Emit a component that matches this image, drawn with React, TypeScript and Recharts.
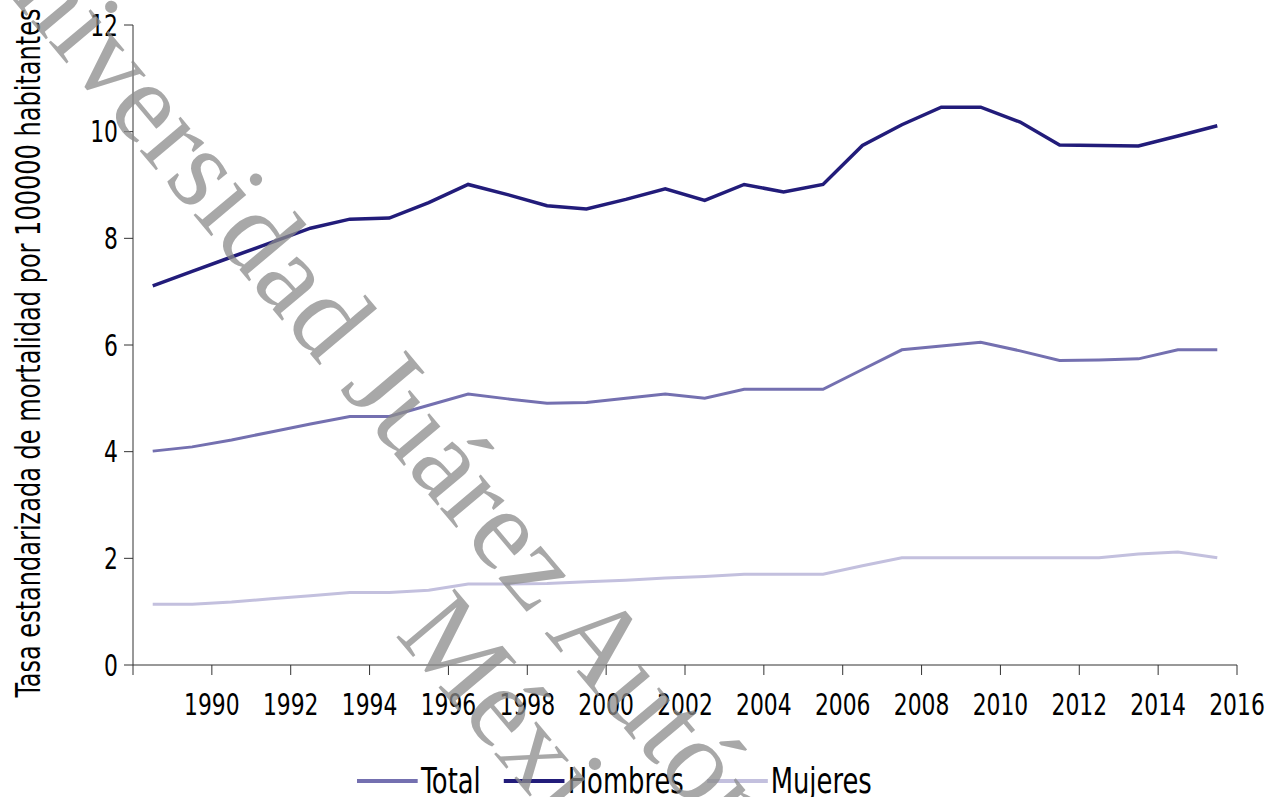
import React from 'react';
import { LineChart, Line, XAxis, YAxis, Legend } from 'recharts';

const FONT = "'DejaVu Sans Condensed', 'DejaVu Sans', sans-serif";
const NARROW = 0.81;

const periods = [1988, 1989, 1990, 1991, 1992, 1993, 1994, 1995, 1996, 1997, 1998, 1999, 2000, 2001, 2002, 2003, 2004, 2005, 2006, 2007, 2008, 2009, 2010, 2011, 2012, 2013, 2014, 2015];
const hombres = [7.11, 7.38, 7.65, 7.92, 8.19, 8.36, 8.38, 8.67, 9.01, 8.82, 8.61, 8.55, 8.73, 8.93, 8.71, 9.01, 8.87, 9.01, 9.74, 10.13, 10.46, 10.46, 10.18, 9.75, 9.74, 9.73, 9.92, 10.11];
const total = [4.01, 4.09, 4.22, 4.37, 4.52, 4.66, 4.66, 4.87, 5.08, 4.99, 4.91, 4.92, 5.0, 5.08, 5.0, 5.17, 5.17, 5.17, 5.54, 5.91, 5.98, 6.05, 5.89, 5.71, 5.72, 5.74, 5.91, 5.91];
const mujeres = [1.14, 1.14, 1.18, 1.24, 1.3, 1.36, 1.36, 1.4, 1.52, 1.52, 1.53, 1.56, 1.59, 1.63, 1.66, 1.7, 1.7, 1.7, 1.86, 2.01, 2.01, 2.01, 2.01, 2.01, 2.01, 2.08, 2.12, 2.01];

const xTicks = [1988, 1990, 1992, 1994, 1996, 1998, 2000, 2002, 2004, 2006, 2008, 2010, 2012, 2014, 2016];
const yTicks = [0, 2, 4, 6, 8, 10, 12];

const yTitle = 'Tasa estandarizada de mortalidad por 100000 habitantes';
const watermark1 = 'Universidad Juárez Autónoma de Tabasco';
const watermark2 = 'México.';

const series = [
  { key: 'total', name: 'Total', color: '#7470b0', width: 3 },
  { key: 'hombres', name: 'Hombres', color: '#221c7a', width: 3.5 },
  { key: 'mujeres', name: 'Mujeres', color: '#c3c0de', width: 3 },
];

const data = periods.map((p, i) => ({
  x: p + 0.5,
  total: total[i],
  hombres: hombres[i],
  mujeres: mujeres[i],
}));

const XTick = (props: any) => {
  const { x, y, payload } = props;
  const label = payload.value === 1988 ? '' : String(payload.value);
  return (
    <text
      transform={`translate(${x},${y}) scale(${NARROW},1)`}
      textAnchor="middle"
      dy="0.71em"
      fontFamily={FONT}
      fontSize={30}
      fill="#000"
    >
      {label}
    </text>
  );
};

const YTick = (props: any) => {
  const { x, y, payload } = props;
  return (
    <text
      transform={`translate(${x},${y}) scale(${NARROW},1)`}
      textAnchor="end"
      dy="0.36em"
      fontFamily={FONT}
      fontSize={30}
      fill="#000"
    >
      {String(payload.value)}
    </text>
  );
};

const LegendContent = () => (
  <div
    style={{
      display: 'flex',
      alignItems: 'center',
      fontFamily: FONT,
      fontSize: 35,
      color: '#000',
      transform: `scaleX(0.82)`,
      transformOrigin: 'left center',
      whiteSpace: 'nowrap',
    }}
  >
    {series.map((s) => (
      <div key={s.key} style={{ display: 'flex', alignItems: 'center', marginRight: 28 }}>
        <div style={{ width: 74, height: 4, background: s.color, marginRight: 4 }} />
        <span style={{ lineHeight: '34px' }}>{s.name}</span>
      </div>
    ))}
  </div>
);

export default function App() {
  return (
    <div style={{ position: 'absolute', left: 0, top: 0, width: 1272, height: 797, background: '#fff', overflow: 'hidden' }}>
      <LineChart width={1272} height={797} data={data} margin={{ top: 25, right: 35, bottom: 72, left: 0 }}>
        <XAxis
          dataKey="x"
          type="number"
          domain={[1988, 2016]}
          ticks={xTicks}
          interval={0}
          height={60}
          tickSize={10}
          tickMargin={19}
          stroke="#333"
          tick={<XTick />}
        />
        <YAxis
          type="number"
          domain={[0, 12]}
          ticks={yTicks}
          interval={0}
          width={133}
          tickSize={9}
          tickMargin={6}
          stroke="#333"
          tick={<YTick />}
          label={() => (
            <text
              transform="translate(40,353) rotate(-90) scale(0.81,1)"
              textAnchor="middle"
              fontFamily={FONT}
              fontSize={33}
              fill="#000"
            >
              {yTitle}
            </text>
          )}
        />
        <Legend
          verticalAlign="middle"
          align="center"
          layout="horizontal"
          content={<LegendContent />}
          wrapperStyle={{ top: 764, left: 357, width: 'auto', height: 'auto' }}
        />
        {series.map((s) => (
          <Line
            key={s.key}
            type="linear"
            dataKey={s.key}
            name={s.name}
            stroke={s.color}
            strokeWidth={s.width}
            dot={false}
            activeDot={false}
            isAnimationActive={false}
          />
        ))}
      </LineChart>
      <svg width={1272} height={797} style={{ position: 'absolute', left: 0, top: 0, pointerEvents: 'none' }}>
        <g transform="translate(-44,-68) rotate(50)" fontFamily="'Liberation Serif', 'DejaVu Serif', serif" fontSize={116} fill="#8c8c8c" opacity={0.75}>
          <text x={0} y={0}>{watermark1}</text>
          <text x={820} y={116}>{watermark2}</text>
        </g>
      </svg>
    </div>
  );
}
